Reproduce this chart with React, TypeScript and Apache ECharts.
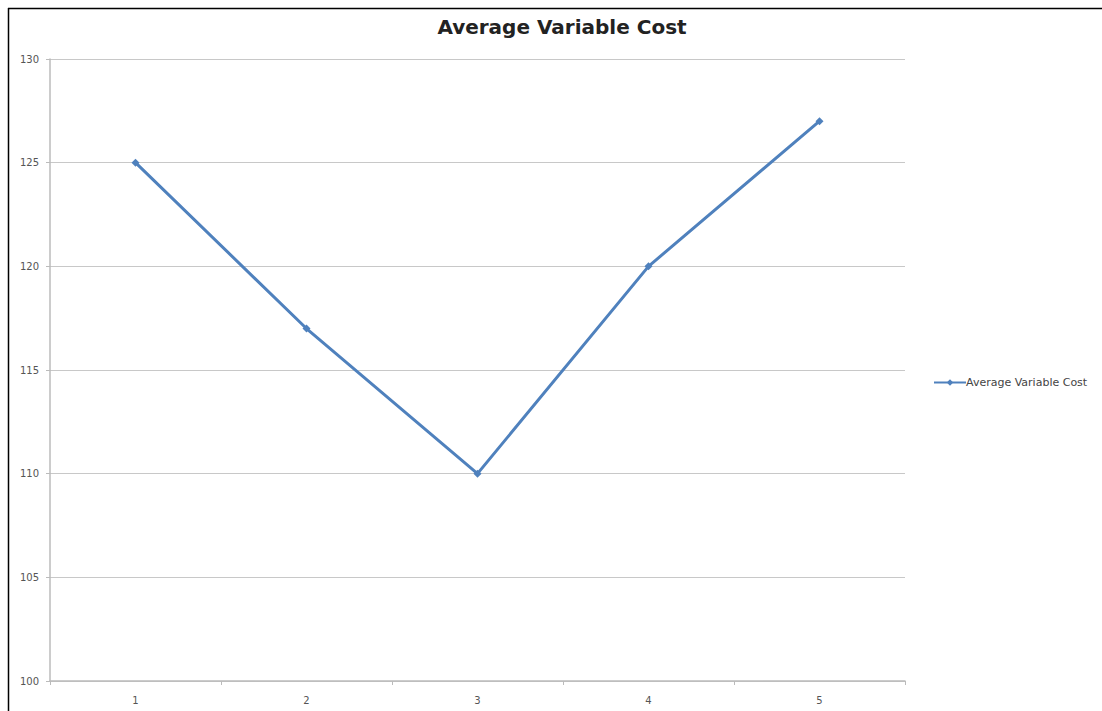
import React, { useEffect, useRef } from "react";
import * as echarts from "echarts";

const categories = ["1", "2", "3", "4", "5"];
const avgVariableCost = [125, 117, 110, 120, 127];
const seriesName = "Average Variable Cost";
const titleText = "Average Variable Cost";

export default function App() {
  const ref = useRef<HTMLDivElement>(null);
  useEffect(() => {
    if (!ref.current) return;
    const chart = echarts.init(ref.current, undefined, { renderer: "svg" });
    chart.setOption({
      animation: false,
      backgroundColor: "#ffffff",
      title: {
        text: titleText,
        left: 557,
        textAlign: "center",
        top: 12,
        textStyle: {
          fontFamily: "DejaVu Sans",
          fontWeight: "bold",
          fontSize: 20,
          color: "#222222",
        },
      },
      legend: {
        left: 928,
        top: 372,
        itemWidth: 32,
        itemHeight: 8,
        itemGap: 2,
        data: [{ name: seriesName }],
        textStyle: { fontFamily: "DejaVu Sans", fontSize: 11, color: "#444444", padding: [0, 0, 0, -5] },
      },
      grid: { left: 50, top: 59, width: 855, height: 622, containLabel: false },
      xAxis: {
        type: "category",
        data: categories,
        boundaryGap: true,
        axisLine: { lineStyle: { color: "#bbbbbb", width: 1.5 } },
        axisTick: { show: true, length: 4, lineStyle: { color: "#bbbbbb" } },
        axisLabel: { fontFamily: "DejaVu Sans", fontSize: 10, color: "#555555", margin: 14 },
      },
      yAxis: {
        type: "value",
        min: 100,
        max: 130,
        interval: 5,
        axisLine: { show: true, lineStyle: { color: "#bbbbbb", width: 1.5 } },
        axisTick: { show: true, length: 4, lineStyle: { color: "#bbbbbb" } },
        splitLine: { lineStyle: { color: "#c8c8c8", width: 1.2 } },
        axisLabel: { fontFamily: "DejaVu Sans", fontSize: 10, color: "#555555", margin: 11 },
      },
      series: [
        {
          name: seriesName,
          type: "line",
          data: avgVariableCost,
          symbol: "diamond",
          symbolSize: 8,
          lineStyle: { color: "#4f81bd", width: 3 },
          itemStyle: { color: "#4f81bd" },
        },
      ],
      graphic: [
        { type: "line", shape: { x1: 8, y1: 8.5, x2: 1102, y2: 8.5 }, style: { stroke: "#000000", lineWidth: 1.5 } },
        { type: "line", shape: { x1: 8.5, y1: 8, x2: 8.5, y2: 711 }, style: { stroke: "#000000", lineWidth: 1.5 } },
      ],
    });
    return () => chart.dispose();
  }, []);
  return (
    <div
      ref={ref}
      style={{ position: "fixed", left: 0, top: 0, width: 1102, height: 711 }}
    />
  );
}
